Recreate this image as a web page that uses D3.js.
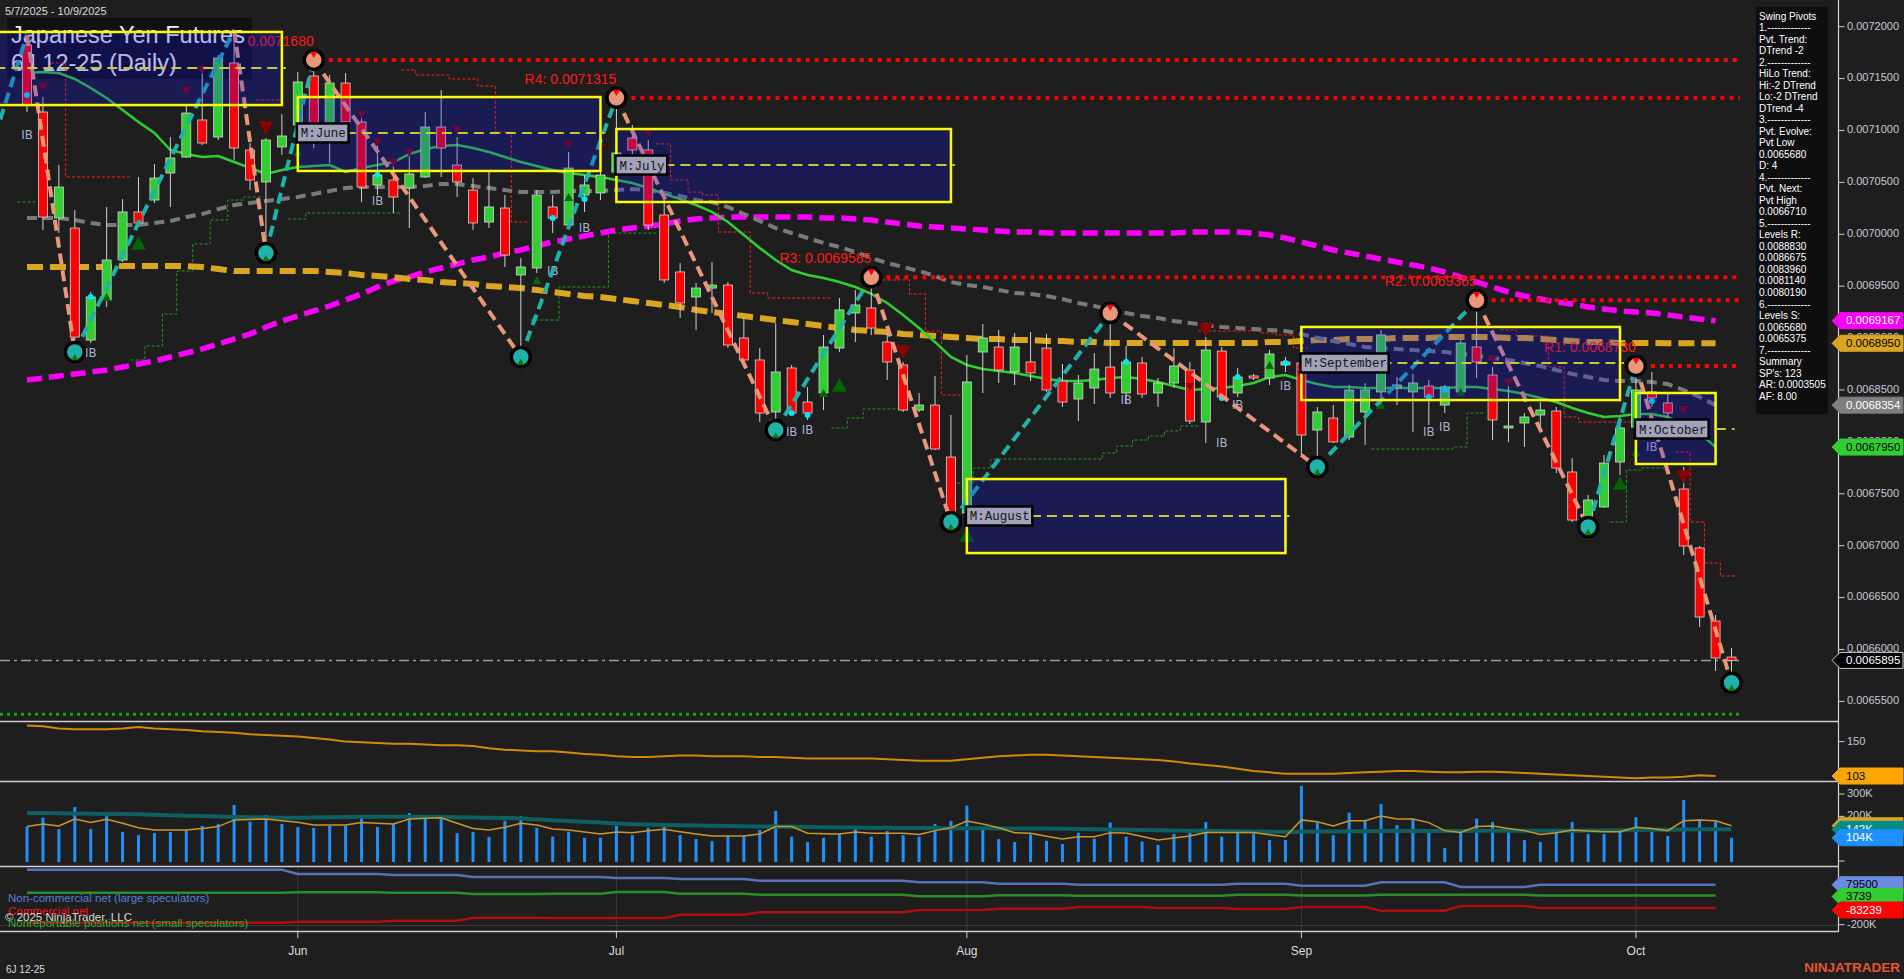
<!DOCTYPE html>
<html><head><meta charset="utf-8">
<script src="https://cdn.jsdelivr.net/npm/d3@7"></script>
<style>
html,body{margin:0;padding:0;background:#1e1e1e;overflow:hidden;}
svg{display:block;font-family:"Liberation Sans",Arial,sans-serif;}
</style></head><body>
<svg id="c" width="1904" height="979"></svg>
<script>
// ---------------- DATA ----------------
const holidays = ["2025-05-26","2025-06-19","2025-07-04","2025-09-01"];
const open = [0.0071823,0.0071178,0.0070157,0.0070060,0.0068981,0.0069367,0.0069752,0.0070215,0.0070330,0.0070590,
0.0070744,0.0071101,0.0070937,0.0071650,0.0070812,0.0070504,0.0070841,0.0071053,0.0071525,0.0070937,
0.0071457,0.0071082,0.0070475,0.0070523,0.0070446,0.0070552,0.0071033,0.0070667,0.0070426,0.0070118,
0.0070253,0.0069608,0.0069675,0.0070263,0.0070089,0.0070378,0.0070398,0.0070600,0.0070927,0.0070812,
0.0070186,0.0069637,0.0069396,0.0069482,0.0069511,0.0069001,0.0068789,0.0068288,0.0068712,0.0068384,
0.0068471,0.0068904,0.0069242,0.0069290,0.0068962,0.0068741,0.0068307,0.0068355,0.0067854,0.0067315,
0.0068866,0.0068914,0.0068673,0.0068770,0.0068904,0.0068586,0.0068413,0.0068519,0.0068721,0.0068471,
0.0068760,0.0068471,0.0068567,0.0068692,0.0068191,0.0068875,0.0068471,0.0068635,0.0068615,0.0068741,
0.0068760,0.0068114,0.0068230,0.0068047,0.0068288,0.0068481,0.0068519,0.0068481,0.0068538,0.0068355,
0.0068481,0.0068914,0.0068644,0.0068134,0.0068182,0.0068259,0.0068297,0.0067710,0.0067276,0.0067373,
0.0067806,0.0068143,0.0068481,0.0068375,0.0067546,0.0066978,0.0066274,0.0065927];
const high = [0.0071920,0.0071322,0.0070667,0.0070234,0.0069444,0.0070263,0.0070340,0.0070552,0.0070677,0.0070937,
0.0071245,0.0071554,0.0071727,0.0071968,0.0070879,0.0070927,0.0071159,0.0071563,0.0071680,0.0071534,
0.0071554,0.0071178,0.0070908,0.0070716,0.0070764,0.0071178,0.0071390,0.0070937,0.0070542,0.0070600,
0.0070378,0.0069771,0.0070426,0.0070378,0.0070793,0.0070571,0.0070667,0.0071315,0.0071053,0.0070908,
0.0070330,0.0069723,0.0069531,0.0069733,0.0069540,0.0069193,0.0068904,0.0069145,0.0068741,0.0068529,
0.0069030,0.0069386,0.0069463,0.0069585,0.0069049,0.0068770,0.0068471,0.0068635,0.0068259,0.0068837,
0.0069136,0.0069078,0.0069049,0.0069058,0.0069039,0.0068750,0.0068644,0.0068856,0.0069242,0.0068924,
0.0068818,0.0068615,0.0068904,0.0068770,0.0069010,0.0068914,0.0068712,0.0068654,0.0068885,0.0068818,
0.0068885,0.0068336,0.0068355,0.0068548,0.0068567,0.0069078,0.0068625,0.0068654,0.0068596,0.0068548,
0.0068981,0.0069365,0.0068721,0.0068548,0.0068278,0.0068384,0.0068336,0.0067845,0.0067488,0.0067873,
0.0068240,0.0068730,0.0068673,0.0068471,0.0067758,0.0066997,0.0066332,0.0066014];
const low = [0.0071178,0.0070041,0.0070012,0.0068866,0.0068952,0.0069299,0.0069733,0.0070070,0.0070301,0.0070263,
0.0070735,0.0070860,0.0070908,0.0070716,0.0070426,0.0069820,0.0070764,0.0070812,0.0070831,0.0070687,
0.0070985,0.0070311,0.0070378,0.0070205,0.0070060,0.0070542,0.0070552,0.0070359,0.0070041,0.0070060,
0.0069685,0.0068818,0.0069627,0.0070012,0.0070070,0.0070215,0.0070330,0.0070523,0.0070716,0.0070041,
0.0069531,0.0069193,0.0069078,0.0069242,0.0068904,0.0068760,0.0068191,0.0068114,0.0068259,0.0068211,
0.0068307,0.0068866,0.0068962,0.0069030,0.0068596,0.0068288,0.0068288,0.0067922,0.0067228,0.0067247,
0.0068471,0.0068567,0.0068548,0.0068586,0.0068481,0.0068336,0.0068201,0.0068365,0.0068423,0.0068365,
0.0068423,0.0068336,0.0068519,0.0068172,0.0067989,0.0068403,0.0068432,0.0068596,0.0068548,0.0068673,
0.0067854,0.0067758,0.0067989,0.0068018,0.0067970,0.0068375,0.0068355,0.0068095,0.0068163,0.0068278,
0.0068452,0.0068615,0.0068018,0.0067999,0.0067951,0.0068114,0.0067700,0.0067228,0.0067180,0.0067363,
0.0067681,0.0068095,0.0068336,0.0068211,0.0066910,0.0066217,0.0065793,0.0065680];
const close = [0.0071245,0.0070166,0.0070455,0.0069010,0.0069396,0.0069752,0.0070215,0.0070109,0.0070542,0.0070735,
0.0071168,0.0070879,0.0071698,0.0070831,0.0070523,0.0070908,0.0070947,0.0071467,0.0070976,0.0071457,
0.0071082,0.0070455,0.0070571,0.0070359,0.0070581,0.0071033,0.0070831,0.0070504,0.0070109,0.0070263,
0.0069800,0.0069685,0.0070378,0.0070157,0.0070638,0.0070475,0.0070571,0.0070783,0.0070812,0.0070089,
0.0069560,0.0069338,0.0069482,0.0069511,0.0068933,0.0068789,0.0068278,0.0068673,0.0068278,0.0068278,
0.0068914,0.0069271,0.0069319,0.0069097,0.0068770,0.0068307,0.0068355,0.0067931,0.0067295,0.0068577,
0.0069001,0.0068692,0.0068914,0.0068664,0.0068500,0.0068384,0.0068567,0.0068702,0.0068471,0.0068770,
0.0068461,0.0068567,0.0068731,0.0068201,0.0068885,0.0068432,0.0068625,0.0068615,0.0068847,0.0068770,
0.0068066,0.0068288,0.0067999,0.0068500,0.0068500,0.0069030,0.0068548,0.0068567,0.0068432,0.0068529,
0.0068952,0.0068770,0.0068211,0.0068153,0.0068240,0.0068307,0.0067748,0.0067247,0.0067440,0.0067796,
0.0068134,0.0068500,0.0068423,0.0068278,0.0066997,0.0066313,0.0065918,0.0065895];

const maFast = [0.0071554,0.0071563,0.0071554,0.0071496,0.0071409,0.0071313,0.0071197,0.0071082,0.0070976,0.0070812,
0.0070773,0.0070745,0.0070754,0.0070696,0.0070639,0.0070581,0.0070619,0.0070648,0.0070658,0.0070667,
0.0070600,0.0070639,0.0070667,0.0070696,0.0070773,0.0070822,0.0070850,0.0070860,0.0070831,0.0070793,
0.0070745,0.0070696,0.0070658,0.0070619,0.0070590,0.0070571,0.0070552,0.0070523,0.0070494,0.0070446,
0.0070388,0.0070340,0.0070282,0.0070215,0.0070118,0.0069993,0.0069868,0.0069752,0.0069656,0.0069608,
0.0069579,0.0069540,0.0069492,0.0069425,0.0069338,0.0069222,0.0069097,0.0068962,0.0068818,0.0068741,
0.0068702,0.0068683,0.0068664,0.0068635,0.0068606,0.0068586,0.0068586,0.0068596,0.0068615,0.0068625,
0.0068606,0.0068577,0.0068538,0.0068500,0.0068509,0.0068519,0.0068538,0.0068567,0.0068625,0.0068644,
0.0068596,0.0068557,0.0068529,0.0068529,0.0068519,0.0068519,0.0068519,0.0068519,0.0068519,0.0068519,
0.0068529,0.0068529,0.0068509,0.0068490,0.0068461,0.0068423,0.0068384,0.0068326,0.0068278,0.0068240,
0.0068249,0.0068268,0.0068268,0.0068240,0.0068172,0.0068085,0.0067950];
const maMid = [0.0070157,0.0070157,0.0070157,0.0070137,0.0070109,0.0070089,0.0070089,0.0070089,0.0070109,0.0070128,
0.0070166,0.0070195,0.0070243,0.0070282,0.0070301,0.0070321,0.0070340,0.0070359,0.0070388,0.0070417,
0.0070446,0.0070455,0.0070455,0.0070455,0.0070455,0.0070465,0.0070484,0.0070484,0.0070465,0.0070446,
0.0070426,0.0070407,0.0070407,0.0070407,0.0070417,0.0070417,0.0070417,0.0070426,0.0070436,0.0070426,
0.0070398,0.0070369,0.0070330,0.0070311,0.0070263,0.0070195,0.0070128,0.0070060,0.0070012,0.0069964,
0.0069916,0.0069877,0.0069829,0.0069771,0.0069723,0.0069685,0.0069646,0.0069598,0.0069540,0.0069511,
0.0069492,0.0069463,0.0069434,0.0069425,0.0069405,0.0069376,0.0069338,0.0069309,0.0069271,0.0069242,
0.0069213,0.0069193,0.0069164,0.0069145,0.0069126,0.0069107,0.0069097,0.0069087,0.0069078,0.0069068,
0.0069039,0.0069001,0.0068972,0.0068943,0.0068914,0.0068904,0.0068895,0.0068885,0.0068875,0.0068866,
0.0068847,0.0068827,0.0068808,0.0068789,0.0068760,0.0068731,0.0068692,0.0068654,0.0068625,0.0068596,
0.0068586,0.0068586,0.0068577,0.0068557,0.0068500,0.0068432,0.0068354];
const maSlow = [0.0069685,0.0069685,0.0069685,0.0069685,0.0069685,0.0069685,0.0069694,0.0069694,0.0069694,0.0069694,
0.0069694,0.0069685,0.0069665,0.0069646,0.0069646,0.0069646,0.0069646,0.0069646,0.0069646,0.0069637,
0.0069627,0.0069608,0.0069598,0.0069588,0.0069569,0.0069560,0.0069540,0.0069531,0.0069521,0.0069502,
0.0069492,0.0069482,0.0069463,0.0069444,0.0069425,0.0069405,0.0069396,0.0069376,0.0069357,0.0069338,
0.0069319,0.0069299,0.0069271,0.0069251,0.0069232,0.0069213,0.0069193,0.0069174,0.0069155,0.0069136,
0.0069116,0.0069097,0.0069078,0.0069068,0.0069058,0.0069039,0.0069030,0.0069020,0.0069010,0.0069001,
0.0068991,0.0068991,0.0068981,0.0068981,0.0068972,0.0068972,0.0068962,0.0068962,0.0068952,0.0068952,
0.0068952,0.0068952,0.0068952,0.0068952,0.0068952,0.0068952,0.0068952,0.0068952,0.0068962,0.0068962,
0.0068972,0.0068981,0.0068981,0.0068991,0.0068991,0.0068991,0.0069001,0.0069001,0.0069001,0.0069010,
0.0069010,0.0069010,0.0069010,0.0069001,0.0069001,0.0068991,0.0068981,0.0068972,0.0068962,0.0068962,
0.0068952,0.0068952,0.0068952,0.0068950,0.0068950,0.0068950,0.0068950];
const maLong = [0.0068596,0.0068615,0.0068635,0.0068654,0.0068673,0.0068692,0.0068721,0.0068750,0.0068779,0.0068818,
0.0068856,0.0068895,0.0068943,0.0068991,0.0069039,0.0069107,0.0069164,0.0069213,0.0069261,0.0069309,
0.0069367,0.0069425,0.0069492,0.0069550,0.0069588,0.0069637,0.0069675,0.0069714,0.0069752,0.0069781,
0.0069820,0.0069849,0.0069887,0.0069926,0.0069955,0.0069983,0.0070012,0.0070041,0.0070060,0.0070080,
0.0070099,0.0070128,0.0070147,0.0070157,0.0070166,0.0070166,0.0070166,0.0070166,0.0070166,0.0070166,
0.0070157,0.0070157,0.0070147,0.0070137,0.0070118,0.0070099,0.0070080,0.0070070,0.0070060,0.0070051,
0.0070041,0.0070031,0.0070022,0.0070022,0.0070012,0.0070012,0.0070012,0.0070012,0.0070012,0.0070012,
0.0070012,0.0070012,0.0070012,0.0070022,0.0070022,0.0070022,0.0070022,0.0070012,0.0069993,0.0069964,
0.0069926,0.0069887,0.0069849,0.0069820,0.0069791,0.0069762,0.0069733,0.0069704,0.0069675,0.0069637,
0.0069588,0.0069540,0.0069492,0.0069444,0.0069405,0.0069376,0.0069347,0.0069328,0.0069299,0.0069280,
0.0069261,0.0069251,0.0069242,0.0069222,0.0069203,0.0069184,0.0069167];

// swing pivots [barIndex, price]
const swingPts = [[-2,0.0070950],[0,0.0071920],[3,0.0068866],[13,0.0071968],[15,0.0069820],[18,0.0071680],[31,0.0068818],[37,0.0071315],[47,0.0068114],[53,0.0069585],[58,0.0067228],[68,0.0069242],[81,0.0067758],[91,0.0069365],[98,0.0067180],[101,0.0068730],[107,0.0065680]];
const pivotCircles = [3,15,18,31,37,47,53,58,68,81,91,98,101,107];
// resistance lines [barIndex, price, label]
const resLines = [[18,0.0071680,"0.0071680"],[37,0.0071315,"R4: 0.0071315"],[53,0.0069585,"R3: 0.0069585"],[91,0.0069365,"R2: 0.0069365"],[101,0.0068730,"R1: 0.0068730"]];
const supportLevel = 0.0065375;
const lastPrice = 0.0065895;

// monthly boxes [label, firstBar, lastBar, top, bottom, mid]
const monthBoxes = [["",-4,16,0.0071949,0.0071245,0.0071602],["M:June",17,36,0.0071322,0.0070610,0.0070976],["M:July",37,58,0.0071014,0.0070311,0.0070667],
["M:August",59,79,0.0067642,0.0066929,0.0067286],["M:September",80,100,0.0069107,0.0068403,0.0068760],["M:October",101,106,0.0068471,0.0067787,0.0068124]];

// trailing stop steps [fromBar, toBar, price]
const redStops = [[1.5,2.43,0.0071650],[2.43,6.47,0.0070552],[14.4,16.0,0.0071294],[23.5,24.4,0.0071583],[24.4,26.5,0.0071535],[26.5,28.3,0.0071496],[28.3,29.4,0.0071429],[29.4,30.4,0.0070985],[30.4,31.4,0.0070118],
[39.5,40.4,0.0070870],[40.4,41.5,0.0070523],[41.5,42.4,0.0070407],[42.4,43.4,0.0070378],[43.4,45.4,0.0070022],[45.4,46.5,0.0069434],[46.5,50.5,0.0069386],
[53.4,55.4,0.0069560],[55.4,56.4,0.0069425],[56.4,57.4,0.0069068],[57.4,58.8,0.0068452],
[73.5,77.4,0.0069068],[77.4,78.4,0.0069049],[78.4,79.5,0.0069030],[79.5,80.4,0.0068904],
[92.5,93.5,0.0069078],[93.5,95.5,0.0069020],[95.5,96.5,0.0068722],[96.5,97.4,0.0068240],[97.4,100.7,0.0068191],
[103.5,104.4,0.0067902],[104.4,105.3,0.0067228],[105.3,106.3,0.0066833],[106.3,107.3,0.0066708]];
const greenStops = [[-0.6,0.6,0.0070311],[6.5,7.4,0.0068789],[7.4,8.5,0.0068924],[8.5,9.4,0.0069232],[9.4,10.4,0.0069646],[10.4,11.5,0.0069906],[11.5,12.6,0.0070138],[12.6,13.6,0.0070330],[13.6,14.8,0.0070359],
[16.4,17.5,0.0070147],[17.5,23.5,0.0070205],[31.6,33.4,0.0069174],[33.4,36.5,0.0069492],[36.5,39.5,0.0070012],
[50.5,51.5,0.0068134],[51.5,52.5,0.0068230],[52.5,54.9,0.0068317],
[58.4,59.4,0.0067604],[59.4,60.5,0.0067748],[60.5,67.5,0.0067835],[67.5,68.4,0.0067893],[68.4,69.4,0.0067960],[69.4,70.4,0.0068018],[70.4,71.4,0.0068056],[71.4,72.4,0.0068105],[72.4,73.5,0.0068153],
[84.4,89.5,0.0067931],[89.5,90.4,0.0067951],[90.4,91.5,0.0068278],[99.4,100.4,0.0067228],[100.4,101.4,0.0067729],[101.4,102.9,0.0067748]];

// signal markers [barIndex, price, size]
const downTri = [[1,0.0071419,0],[10,0.0071380,0],[11,0.0071583,0],[15,0.0071024,1],[21,0.0071149,0],[22,0.0070889,0],[24,0.0070783,0],[23,0.0070687,0],[27,0.0071005,0],[34,0.0070860,0],[36,0.0070831,0],[39,0.0070976,0],[55,0.0068866,1],[74,0.0069078,1],[73,0.0068529,0],[80,0.0068644,0],[92,0.0068789,0],[93,0.0068567,0],[104,0.0068307,0],[104,0.0067662,1]];
const upTri = [[7,0.0069916,1],[5,0.0069396,0],[17,0.0070793,0],[32,0.0069560,0],[34,0.0070359,0],[51,0.0068548,1],[50,0.0068471,0],[59,0.0067103,1],[78,0.0068741,0],[85,0.0068355,0],[90,0.0068481,0],[100,0.0067604,1],[101,0.0067902,0]];
const cyanDots = [[0,0.0071342],[4,0.0069396],[22,0.0070571],[33,0.0070157],[35,0.0070340],[48,0.0068278],[49,0.0068259],[69,0.0068770],[75,0.0068423],[76,0.0068625],[79,0.0068760],[88,0.0068432],[89,0.0068500],[102,0.0068394]];
const ibLabels = [[0,0.0070956],[4,0.0068856],[22,0.0070311],[33,0.0069637],[35,0.0070060],[48,0.0068095],[49,0.0068114],[69,0.0068403],[75,0.0067989],[76,0.0068355],[79,0.0068529],[88,0.0068095],[89,0.0068143],[102,0.0067950]];

// lower panels
const adx = [172,171,168,167,167,167,168,170,168,167,166,164,163,162,160,159,158,157,155,153,
150,149,148,147,147,146,145,145,144,141,139,138,137,137,135,133,132,130,129,129,
130,131,131,130,130,130,129,129,128,127,127,127,127,127,126,125,124,124,124,126,
128,130,131,132,132,131,130,129,128,127,126,125,123,120,118,116,113,110,108,106,
106,106,106,107,108,109,110,110,109,108,108,109,109,108,107,106,105,104,103,102,
101,100,101,101,102,104,103];
const volumeK = [154,194,143,242,143,201,130,116,125,130,139,157,166,251,176,206,166,152,148,157,
157,197,152,166,215,201,197,125,130,108,180,201,149,109,131,104,104,157,116,149,
158,116,98,90,112,112,139,224,109,85,104,121,157,109,134,116,109,166,180,248,
139,98,85,119,91,76,127,100,172,109,87,72,121,127,175,109,131,124,94,94,
336,172,116,216,180,255,161,187,131,58,128,190,175,131,94,85,143,175,121,121,
131,196,130,112,273,187,176,104];
const volAvgK = [215,215,214,213,212,211,210,209,207,205,203,201,199,197,196,195,194,194,195,196,
197,198,198,198,198,198,197,196,195,194,193,190,186,182,179,176,172,168,165,163,
161,160,159,158,157,156,155,154,153,152,151,150,150,149,149,148,148,148,147,147,
147,146,146,146,145,144,143,142,141,140,139,138,137,136,135,134,133,132,131,131,
131,132,132,133,133,134,134,134,134,134,134,135,135,135,135,136,136,136,137,137,
138,139,140,140,141,142,142,142];
const volEmaK = [154,166,157,188,172,187,169,149,139,139,139,146,154,184,186,188,180,173,161,161,
161,172,169,166,188,191,194,169,146,139,151,169,161,143,139,130,121,130,127,135,
142,131,121,112,112,112,121,154,154,124,122,121,130,124,124,124,119,136,149,179,
166,149,127,124,111,99,109,109,127,125,110,94,103,112,128,128,128,128,118,109,
184,176,157,180,180,201,188,188,172,136,128,154,157,146,136,119,127,139,134,131,
131,151,146,136,180,184,180,158];
const cotStart = [0,17,23,28,33,37,41,46,51,56,61,66,71,76,80,85,90,95,100];
const nonCommercial = [184400,154300,147300,133300,133300,126400,119400,107500,107500,96300,86500,79500,79500,86500,72500,96300,63400,79500,79500];
const commercial = [-186200,-179200,-172200,-151300,-153400,-153400,-130300,-113500,-113500,-97400,-88300,-76400,-83400,-90400,-76400,-102300,-69400,-83239,-83239];
const nonReportable = [23600,26400,23600,14500,16600,28500,16600,9600,9600,-1600,5400,2600,2600,9600,3739,9600,9600,3739,3739];

const priceTicks = [0.00655,0.0066,0.00665,0.0067,0.00675,0.0068,0.00685,0.0069,0.00695,0.007,0.00705,0.0071,0.00715,0.0072];
const infoLines = ["Swing Pivots","1.-------------","Pvt. Trend:","DTrend -2","2.-------------","HiLo Trend:","Hi:-2 DTrend","Lo:-2 DTrend","DTrend -4","3.-------------","Pvt. Evolve:","Pvt Low","0.0065680","D: 4","4.-------------","Pvt. Next:","Pvt High","0.0066710","5.-------------","Levels R:","0.0088830","0.0086675","0.0083960","0.0081140","0.0080190","6.-------------","Levels S:","0.0065680","0.0065375","7.-------------","Summary","SP's: 123","AR: 0.0003505","AF: 8.00"];

// ---------------- SETUP ----------------
const fmtD = d3.timeFormat("%Y-%m-%d");
const dates = d3.timeDay.range(new Date(2025,4,7), new Date(2025,9,10))
  .filter(d => d.getDay()>0 && d.getDay()<6 && !holidays.includes(fmtD(d)));
const monthIdx = dates.map((d,i)=> i>0 && d.getMonth()!==dates[i-1].getMonth() ? i : -1).filter(v=>v>=0);

const W=1904, H=979, AX=1838.5, XEND=1740;
const x = d3.scaleLinear().domain([0,dates.length-1]).range([27,1731.5]);
const yP = d3.scaleLinear().domain([0.0065311,0.0072257]).range([721,0]);
const yAdx = d3.scaleLinear().domain([96.2,176.8]).range([781,722]);
const yVol = d3.scaleLinear().domain([0,300]).range([861,794]);
const yCot = d3.scaleLinear().domain([-200000,79500]).range([924.7,884.7]);

const svg = d3.select('#c');
svg.append('rect').attr('width',W).attr('height',H).attr('fill','#1e1e1e');
const defs = svg.append('defs');
defs.append('clipPath').attr('id','cm').append('rect').attr('x',0).attr('y',0).attr('width',AX).attr('height',721);
defs.append('clipPath').attr('id','cs').append('rect').attr('x',0).attr('y',722).attr('width',AX).attr('height',210);
const main = svg.append('g').attr('clip-path','url(#cm)');

// title
main.append('rect').attr('x',7).attr('y',18).attr('width',245).attr('height',61).attr('fill','#111');
main.append('text').attr('x',11).attr('y',43).attr('font-size',23.5).attr('fill','#eeeeee').text('Japanese Yen Futures');
main.append('text').attr('x',11).attr('y',71).attr('font-size',23.5).attr('fill','#eeeeee').text('6J 12-25 (Daily)');

// support & last price lines
main.append('line').attr('x1',0).attr('x2',XEND).attr('y1',yP(supportLevel)).attr('y2',yP(supportLevel))
  .attr('stroke','#14a014').attr('stroke-width',3).attr('stroke-dasharray','3,4');
main.append('line').attr('x1',0).attr('x2',XEND).attr('y1',yP(lastPrice)).attr('y2',yP(lastPrice))
  .attr('stroke','#9a9a9a').attr('stroke-width',1.5).attr('stroke-dasharray','10,4,3,4');

// trailing stops
function stepPath(segs){
  let d='';
  segs.forEach((s,k)=>{
    const x0=x(s[0]), x1=x(s[1]), yy=yP(s[2]);
    const prev=segs[k-1];
    if(prev && Math.abs(prev[1]-s[0])<0.05) d+=`V${yy}H${x1}`;
    else d+=`M${x0},${yy}H${x1}`;
  });
  return d;
}
main.append('path').attr('d',stepPath(redStops)).attr('fill','none').attr('stroke','#ff2020').attr('stroke-width',1).attr('stroke-dasharray','3,2');
main.append('path').attr('d',stepPath(greenStops)).attr('fill','none').attr('stroke','#1f9a1f').attr('stroke-width',1).attr('stroke-dasharray','3,2');

// moving averages
const ln = d3.line().x((d,i)=>x(i)).y(d=>yP(d));
main.append('path').attr('d',ln(maLong)).attr('fill','none').attr('stroke','#ff00ff').attr('stroke-width',5.5).attr('stroke-dasharray','15,7');
main.append('path').attr('d',ln(maSlow)).attr('fill','none').attr('stroke','#daa520').attr('stroke-width',6).attr('stroke-dasharray','16,7');
main.append('path').attr('d',ln(maMid)).attr('fill','none').attr('stroke','#7a7a7a').attr('stroke-width',4).attr('stroke-dasharray','10,6');
main.append('path').attr('d',ln(maFast)).attr('fill','none').attr('stroke','#32cd32').attr('stroke-width',2.5);

// candles
const cg = main.append('g');
open.forEach((o,i)=>{
  const c=close[i], up=c>=o, cx=x(i);
  cg.append('line').attr('x1',cx).attr('x2',cx).attr('y1',yP(high[i])).attr('y2',yP(low[i])).attr('stroke','#d0d0d0').attr('stroke-width',1);
  const y0=yP(Math.max(o,c)), y1=yP(Math.min(o,c));
  cg.append('rect').attr('x',cx-4.5).attr('y',y0).attr('width',9).attr('height',Math.max(1.5,y1-y0))
    .attr('fill',up?'#32cd32':'#ff0000').attr('stroke','#d6d6d6').attr('stroke-width',0.8);
});

// markers
function tri(g,cx,cy,s,down,fill){
  const h=s*0.9;
  const p = down ? `M${cx-s/2},${cy-h/2}L${cx+s/2},${cy-h/2}L${cx},${cy+h/2}Z` : `M${cx-s/2},${cy+h/2}L${cx+s/2},${cy+h/2}L${cx},${cy-h/2}Z`;
  g.append('path').attr('d',p).attr('fill',fill);
}
const mg = main.append('g');
downTri.forEach(d=>tri(mg,x(d[0]),yP(d[1]),d[2]?15:9,true,'#8b0000'));
upTri.forEach(d=>tri(mg,x(d[0]),yP(d[1]),d[2]?15:9,false,'#006400'));
cyanDots.forEach(d=>mg.append('circle').attr('cx',x(d[0])).attr('cy',yP(d[1])).attr('r',3).attr('fill','#00e5ff'));
ibLabels.forEach(d=>mg.append('text').attr('x',x(d[0])).attr('y',yP(d[1])).attr('text-anchor','middle').attr('dominant-baseline','middle')
  .attr('font-size',13).attr('font-family','"DejaVu Sans Condensed","Liberation Sans Narrow",sans-serif').attr('fill','#aab2cc').text('IB'));

// swing lines
const sg = main.append('g');
for(let k=0;k<swingPts.length-1;k++){
  const a=swingPts[k], b=swingPts[k+1];
  sg.append('line').attr('x1',x(a[0])).attr('y1',yP(a[1])).attr('x2',x(b[0])).attr('y2',yP(b[1]))
    .attr('stroke', b[1]>a[1] ? '#20b2aa' : '#e9967a').attr('stroke-width',4).attr('stroke-dasharray','11,6');
}

// resistance lines
resLines.forEach(r=>{
  const px=x(r[0]), py=yP(r[1]);
  main.append('line').attr('x1',px+6).attr('x2',XEND).attr('y1',py).attr('y2',py)
    .attr('stroke','#ff0000').attr('stroke-width',4).attr('stroke-dasharray','4,5');
  main.append('text').attr('x',px).attr('y',py-14).attr('text-anchor','end').attr('font-size',14)
    .attr('fill','#ff1a1a').text(r[2]);
});

// pivot circles
pivotCircles.forEach(i=>{
  const sp = swingPts.find(s=>s[0]===i);
  const isHigh = swingPts.indexOf(sp)>0 && sp[1] > swingPts[swingPts.indexOf(sp)-1][1];
  const cx=x(i), cy=yP(sp[1]);
  main.append('circle').attr('cx',cx).attr('cy',cy).attr('r',9.5).attr('fill',isHigh?'#e9967a':'#20b2aa').attr('stroke','#000').attr('stroke-width',3.5);
  if(isHigh) tri(main,cx,cy-5,7,true,'#ff0000'); else tri(main,cx,cy+5,7,false,'#007a00');
});

// monthly boxes
monthBoxes.forEach(b=>{
  const x0=x(b[1]), x1=x(b[2]), yt=yP(b[3]), yb=yP(b[4]), ym=yP(b[5]);
  main.append('rect').attr('x',x0).attr('y',yt).attr('width',x1-x0).attr('height',yb-yt)
    .attr('fill','rgb(20,20,255)').attr('fill-opacity',0.24);
  main.append('rect').attr('x',x0).attr('y',yt).attr('width',x1-x0).attr('height',yb-yt)
    .attr('fill','none').attr('stroke','#ffff00').attr('stroke-width',2.5);
  main.append('line').attr('x1',x0).attr('x2',x1+(b[0]==='M:October'?19:4)).attr('y1',ym).attr('y2',ym)
    .attr('stroke','#c8c83c').attr('stroke-width',2).attr('stroke-dasharray','10,6');
  if(b[0]){
    const w=b[0].length*7.3+8;
    main.append('rect').attr('x',x0-1).attr('y',ym-9.5).attr('width',w).attr('height',19)
      .attr('fill','#a2a2ba').attr('stroke','#000').attr('stroke-width',2.5);
    main.append('text').attr('x',x0+3).attr('y',ym+4.5).attr('font-size',12.5)
      .attr('font-family','"Liberation Mono","Courier New",monospace').attr('fill','#151515').text(b[0]);
  }
});

// info box
svg.append('rect').attr('x',1756).attr('y',7).attr('width',72).attr('height',407).attr('fill','#0e0e0e');
infoLines.forEach((t,k)=>svg.append('text').attr('x',1759).attr('y',19.5+k*11.52).attr('font-size',10).attr('fill','#ffffff').text(t));

// ---------------- LOWER PANELS ----------------
const sub = svg.append('g').attr('clip-path','url(#cs)');
sub.append('path').attr('d',d3.line().x((d,i)=>x(i)).y(d=>yAdx(d))(adx)).attr('fill','none').attr('stroke','#d28a0a').attr('stroke-width',2);

volumeK.forEach((v,i)=>sub.append('rect').attr('x',x(i)-1.5).attr('y',yVol(v)).attr('width',3).attr('height',862-yVol(v)).attr('fill','#1e90ff'));
sub.append('path').attr('d',d3.line().x((d,i)=>x(i)).y(d=>yVol(d))(volAvgK)).attr('fill','none').attr('stroke','#0d5f60').attr('stroke-width',4);
sub.append('path').attr('d',d3.line().x((d,i)=>x(i)).y(d=>yVol(d))(volEmaK)).attr('fill','none').attr('stroke','#c9972a').attr('stroke-width',1.5);

// COT grid + lines
monthIdx.forEach(i=>sub.append('line').attr('x1',x(i)).attr('x2',x(i)).attr('y1',867).attr('y2',931).attr('stroke','#3a3a3a'));
sub.append('line').attr('x1',0).attr('x2',AX).attr('y1',925.5).attr('y2',925.5).attr('stroke','#3a3a3a');
function weekly(arr){
  const out=[];
  for(let i=0;i<=106;i++){ let k=0; while(k+1<cotStart.length && cotStart[k+1]<=i) k++; out.push(arr[k]); }
  return out;
}
const cl = d3.line().x((d,i)=>x(i)).y(d=>yCot(d));
sub.append('path').attr('d',cl(weekly(nonCommercial))).attr('fill','none').attr('stroke','#5673b8').attr('stroke-width',2.5);
sub.append('path').attr('d',cl(weekly(nonReportable))).attr('fill','none').attr('stroke','#2a8f2a').attr('stroke-width',2.5);
sub.append('path').attr('d',cl(weekly(commercial))).attr('fill','none').attr('stroke','#b00d12').attr('stroke-width',2.5);
svg.append('text').attr('x',8).attr('y',902).attr('font-size',11.5).attr('fill','#5a7fd6').text('Non-commercial net (large speculators)');
svg.append('text').attr('x',8).attr('y',914.5).attr('font-size',11.5).attr('fill','#ff1010').text('Commercial net');
svg.append('text').attr('x',5).attr('y',920.5).attr('font-size',11.5).attr('fill','#d8d8d8').text('© 2025 NinjaTrader, LLC');
svg.append('text').attr('x',8).attr('y',927).attr('font-size',11.5).attr('fill','#2fa82f').text('Nonreportable positions net (small speculators)');

// separators & axis
[721.5,781.5,866.5,931.5].forEach(yy=>svg.append('line').attr('x1',0).attr('x2',AX).attr('y1',yy).attr('y2',yy).attr('stroke','#cfcfcf').attr('stroke-width',1.5));
svg.append('line').attr('x1',AX).attr('x2',AX).attr('y1',0).attr('y2',932).attr('stroke','#cfcfcf').attr('stroke-width',1.2);

function rTick(yy,label){
  svg.append('line').attr('x1',AX).attr('x2',AX+6).attr('y1',yy).attr('y2',yy).attr('stroke','#cfcfcf');
  if(label) svg.append('text').attr('x',1847).attr('y',yy).attr('dominant-baseline','middle').attr('font-size',11).attr('fill','#c8cad2').text(label);
}
priceTicks.forEach(p=>rTick(yP(p), d3.format('.7f')(p)));
rTick(yAdx(150),'150'); rTick(yAdx(100),'100');
[100,200,300].forEach(v=>rTick(yVol(v), v+'K'));
rTick(yVol(0),'');
rTick(yCot(-200000),'-200K'); rTick(yCot(0),'0');

function tag(yy,text,fill,tc,stroke){
  const x0=1832;
  svg.append('path').attr('d',`M${x0},${yy}L${x0+8},${yy-8}L1903,${yy-8}L1903,${yy+8}L${x0+8},${yy+8}Z`)
    .attr('fill',fill).attr('stroke',stroke||fill).attr('stroke-width',1);
  svg.append('text').attr('x',1846).attr('y',yy+0.5).attr('dominant-baseline','middle').attr('font-size',11.5).attr('fill',tc).text(text);
}
const f7=d3.format('.7f');
tag(yP(maLong[maLong.length-1]), f7(maLong[maLong.length-1]), '#ff00ff', '#ffffff');
tag(yP(maSlow[maSlow.length-1]), f7(maSlow[maSlow.length-1]), '#daa520', '#000000');
tag(yP(maMid[maMid.length-1]), f7(maMid[maMid.length-1]), '#7f7f7f', '#ffffff');
tag(yP(maFast[maFast.length-1]), f7(maFast[maFast.length-1]), '#32cd32', '#000000');
tag(yP(lastPrice), f7(lastPrice), '#000000', '#ffffff', '#cfcfcf');
tag(yAdx(adx[adx.length-1]), String(adx[adx.length-1]), '#ffa500', '#000000');
tag(yVol(volEmaK[volEmaK.length-1]), '', '#daa520', '#000');
tag(yVol(volAvgK[volAvgK.length-1]), volAvgK[volAvgK.length-1]+'K', '#008b8b', '#ffffff');
tag(yVol(volumeK[volumeK.length-1]), volumeK[volumeK.length-1]+'K', '#1e90ff', '#ffffff');
tag(yCot(nonCommercial[nonCommercial.length-1]), String(nonCommercial[nonCommercial.length-1]), '#6a8be0', '#000000');
tag(yCot(nonReportable[nonReportable.length-1])+1, String(nonReportable[nonReportable.length-1]), '#32cd32', '#000000');
tag(yCot(commercial[commercial.length-1])+2, String(commercial[commercial.length-1]), '#ff0000', '#ffffff');

// x axis
const fm = d3.timeFormat('%b');
monthIdx.forEach(i=>{
  svg.append('line').attr('x1',x(i)).attr('x2',x(i)).attr('y1',932).attr('y2',938).attr('stroke','#cfcfcf');
  svg.append('text').attr('x',x(i)).attr('y',955).attr('text-anchor','middle').attr('font-size',12).attr('fill','#dcdcdc').text(fm(dates[i]));
});

svg.append('text').attr('x',5).attr('y',15).attr('font-size',11).attr('fill','#dcdcdc').text('5/7/2025 - 10/9/2025');
svg.append('text').attr('x',6).attr('y',973).attr('font-size',10).attr('fill','#dcdcdc').text('6J 12-25');
svg.append('text').attr('x',1900).attr('y',972).attr('text-anchor','end').attr('font-size',13.5).attr('font-weight','bold').attr('fill','#e4572e').text('NINJATRADER');
</script></body></html>
